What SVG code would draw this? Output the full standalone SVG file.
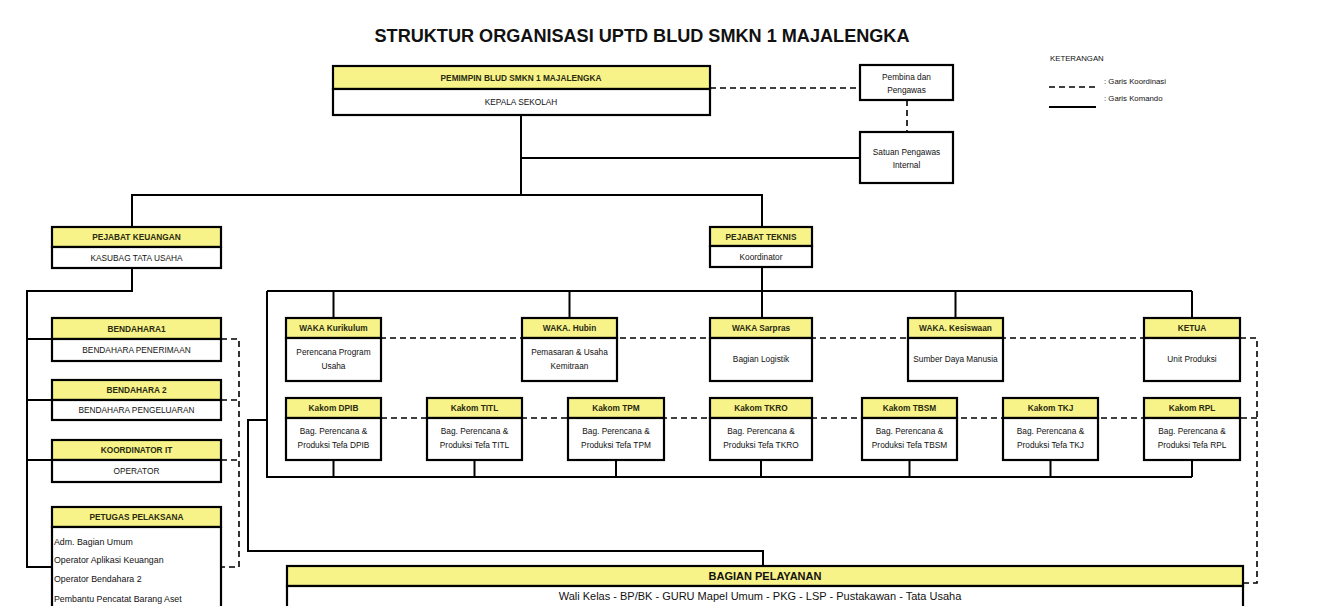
<svg xmlns="http://www.w3.org/2000/svg" width="1336" height="606" viewBox="0 0 1336 606">
<style>
.bx{fill:#fff;stroke:#000;stroke-width:2.2}
.hd{fill:#f7f389;stroke:#000;stroke-width:2.2}
.ln{fill:none;stroke:#000;stroke-width:2}
.ds{fill:none;stroke:#000;stroke-width:1.6;stroke-dasharray:6 4}
text{font-family:"Liberation Sans",Arial,sans-serif;fill:#111}
.h{font-size:8.3px;font-weight:bold;text-anchor:middle;fill:#2a2a10}
.t{font-size:8.3px;text-anchor:middle}
.l{font-size:8.8px}
.lg{font-size:7.8px}
.big{font-size:11px;font-weight:bold;text-anchor:middle}
.bt{font-size:11px;text-anchor:middle}
</style>
<rect width="1336" height="606" fill="#fff"/>
<text x="642" y="42" font-size="18" font-weight="bold" text-anchor="middle" textLength="535" lengthAdjust="spacingAndGlyphs">STRUKTUR ORGANISASI UPTD BLUD SMKN 1 MAJALENGKA</text>

<g id="connectors">
<path class="ln" d="M521 115V195M521 158H860M132 227V195H762V227"/>
<path class="ln" d="M132 268V291H27V567H52M27 339H52M27 400H52M27 460H52"/>
<path class="ln" d="M762 267V318M267 291H1192M333.5 291V318M569.5 291V318M955.5 291V318M1192 291V318"/>
<path class="ln" d="M267 291V477H1192M333.5 460V477M474.5 460V477M616 460V477M761 460V477M909.5 460V477M1050.5 460V477M1192 460V477"/>
<path class="ln" d="M267 420H248V551H763V566"/>
<path class="ds" d="M710 88H860M907 100V132"/>
<path class="ds" d="M221 339H239V567H221M221 400H239M221 460H239"/>
<path class="ds" d="M380 338H1257V583H1243M381 418H1257"/>
</g>

<g id="legend">
<text class="lg" x="1050" y="61">KETERANGAN</text>
<path class="ds" d="M1049 87H1096"/>
<path class="ln" d="M1049 107H1096"/>
<text class="lg" x="1104" y="84">: Garis Koordinasi</text>
<text class="lg" x="1104" y="101">: Garis Komando</text>
</g>

<g id="pemimpin">
<rect class="hd" x="333" y="66" width="377" height="23"/>
<rect class="bx" x="333" y="89" width="377" height="26"/>
<text class="h" x="521" y="80.5">PEMIMPIN BLUD SMKN 1 MAJALENGKA</text>
<text class="t" x="521" y="105">KEPALA SEKOLAH</text>
</g>
<g id="pembina">
<rect class="bx" x="860" y="65" width="93" height="35"/>
<text class="t" x="906.5" y="80">Pembina dan</text>
<text class="t" x="906.5" y="93">Pengawas</text>
</g>
<g id="spi">
<rect class="bx" x="860" y="132" width="93" height="51"/>
<text class="t" x="906.5" y="155">Satuan Pengawas</text>
<text class="t" x="906.5" y="168">Internal</text>
</g>

<g id="pejabat-keuangan">
<rect class="hd" x="52" y="227" width="169" height="20"/>
<rect class="bx" x="52" y="247" width="169" height="21"/>
<text class="h" x="136.5" y="240">PEJABAT KEUANGAN</text>
<text class="t" x="136.5" y="260.5">KASUBAG TATA USAHA</text>
</g>
<g id="bendahara1">
<rect class="hd" x="52" y="318" width="169" height="21"/>
<rect class="bx" x="52" y="339" width="169" height="22"/>
<text class="h" x="136.5" y="332">BENDAHARA1</text>
<text class="t" x="136.5" y="353">BENDAHARA PENERIMAAN</text>
</g>
<g id="bendahara2">
<rect class="hd" x="52" y="380" width="169" height="20"/>
<rect class="bx" x="52" y="400" width="169" height="20"/>
<text class="h" x="136.5" y="393">BENDAHARA 2</text>
<text class="t" x="136.5" y="413">BENDAHARA PENGELUARAN</text>
</g>
<g id="koordinator-it">
<rect class="hd" x="52" y="440" width="169" height="20"/>
<rect class="bx" x="52" y="460" width="169" height="22"/>
<text class="h" x="136.5" y="453">KOORDINATOR IT</text>
<text class="t" x="136.5" y="474">OPERATOR</text>
</g>
<g id="petugas">
<rect class="hd" x="52" y="507" width="169" height="20"/>
<rect class="bx" x="52" y="527" width="169" height="90"/>
<text class="h" x="136.5" y="520">PETUGAS PELAKSANA</text>
<text class="l" x="54" y="545">Adm. Bagian Umum</text>
<text class="l" x="54" y="563">Operator Aplikasi Keuangan</text>
<text class="l" x="54" y="582">Operator Bendahara 2</text>
<text class="l" x="54" y="602">Pembantu Pencatat Barang Aset</text>
</g>

<g id="pejabat-teknis">
<rect class="hd" x="710" y="227" width="102" height="19"/>
<rect class="bx" x="710" y="246" width="102" height="21"/>
<text class="h" x="761" y="239.5">PEJABAT TEKNIS</text>
<text class="t" x="761" y="259.5">Koordinator</text>
</g>

<g id="waka-kurikulum">
<rect class="hd" x="286" y="318" width="95" height="20"/>
<rect class="bx" x="286" y="338" width="95" height="43"/>
<text class="h" x="333.5" y="331">WAKA Kurikulum</text>
<text class="t" x="333.5" y="355">Perencana Program</text>
<text class="t" x="333.5" y="369">Usaha</text>
</g>
<g id="waka-hubin">
<rect class="hd" x="522" y="318" width="95" height="20"/>
<rect class="bx" x="522" y="338" width="95" height="43"/>
<text class="h" x="569.5" y="331">WAKA. Hubin</text>
<text class="t" x="569.5" y="355">Pemasaran &amp; Usaha</text>
<text class="t" x="569.5" y="369">Kemitraan</text>
</g>
<g id="waka-sarpras">
<rect class="hd" x="710" y="318" width="102" height="20"/>
<rect class="bx" x="710" y="338" width="102" height="43"/>
<text class="h" x="761" y="331">WAKA Sarpras</text>
<text class="t" x="761" y="362">Bagian Logistik</text>
</g>
<g id="waka-kesiswaan">
<rect class="hd" x="908" y="318" width="95" height="20"/>
<rect class="bx" x="908" y="338" width="95" height="43"/>
<text class="h" x="955.5" y="331">WAKA. Kesiswaan</text>
<text class="t" x="955.5" y="362">Sumber Daya Manusia</text>
</g>
<g id="ketua">
<rect class="hd" x="1144" y="318" width="96" height="20"/>
<rect class="bx" x="1144" y="338" width="96" height="43"/>
<text class="h" x="1192" y="331">KETUA</text>
<text class="t" x="1192" y="362">Unit Produksi</text>
</g>

<g id="kakom-dpib">
<rect class="hd" x="286" y="398" width="95" height="20"/>
<rect class="bx" x="286" y="418" width="95" height="42"/>
<text class="h" x="333.5" y="411">Kakom DPIB</text>
<text class="t" x="333.5" y="434">Bag. Perencana &amp;</text>
<text class="t" x="333.5" y="448">Produksi Tefa DPIB</text>
</g>
<g id="kakom-titl">
<rect class="hd" x="427" y="398" width="95" height="20"/>
<rect class="bx" x="427" y="418" width="95" height="42"/>
<text class="h" x="474.5" y="411">Kakom TITL</text>
<text class="t" x="474.5" y="434">Bag. Perencana &amp;</text>
<text class="t" x="474.5" y="448">Produksi Tefa TITL</text>
</g>
<g id="kakom-tpm">
<rect class="hd" x="568" y="398" width="96" height="20"/>
<rect class="bx" x="568" y="418" width="96" height="42"/>
<text class="h" x="616" y="411">Kakom TPM</text>
<text class="t" x="616" y="434">Bag. Perencana &amp;</text>
<text class="t" x="616" y="448">Produksi Tefa TPM</text>
</g>
<g id="kakom-tkro">
<rect class="hd" x="710" y="398" width="102" height="20"/>
<rect class="bx" x="710" y="418" width="102" height="42"/>
<text class="h" x="761" y="411">Kakom TKRO</text>
<text class="t" x="761" y="434">Bag. Perencana &amp;</text>
<text class="t" x="761" y="448">Produksi Tefa TKRO</text>
</g>
<g id="kakom-tbsm">
<rect class="hd" x="862" y="398" width="95" height="20"/>
<rect class="bx" x="862" y="418" width="95" height="42"/>
<text class="h" x="909.5" y="411">Kakom TBSM</text>
<text class="t" x="909.5" y="434">Bag. Perencana &amp;</text>
<text class="t" x="909.5" y="448">Produksi Tefa TBSM</text>
</g>
<g id="kakom-tkj">
<rect class="hd" x="1003" y="398" width="95" height="20"/>
<rect class="bx" x="1003" y="418" width="95" height="42"/>
<text class="h" x="1050.5" y="411">Kakom TKJ</text>
<text class="t" x="1050.5" y="434">Bag. Perencana &amp;</text>
<text class="t" x="1050.5" y="448">Produksi Tefa TKJ</text>
</g>
<g id="kakom-rpl">
<rect class="hd" x="1144" y="398" width="96" height="20"/>
<rect class="bx" x="1144" y="418" width="96" height="42"/>
<text class="h" x="1192" y="411">Kakom RPL</text>
<text class="t" x="1192" y="434">Bag. Perencana &amp;</text>
<text class="t" x="1192" y="448">Produksi Tefa RPL</text>
</g>

<g id="bagian-pelayanan">
<rect class="hd" x="287" y="566" width="956" height="20"/>
<rect class="bx" x="287" y="586" width="956" height="26"/>
<text class="big" x="765" y="580">BAGIAN PELAYANAN</text>
<text class="bt" x="760" y="600">Wali Kelas - BP/BK - GURU Mapel Umum - PKG - LSP - Pustakawan - Tata Usaha</text>
</g>
</svg>
